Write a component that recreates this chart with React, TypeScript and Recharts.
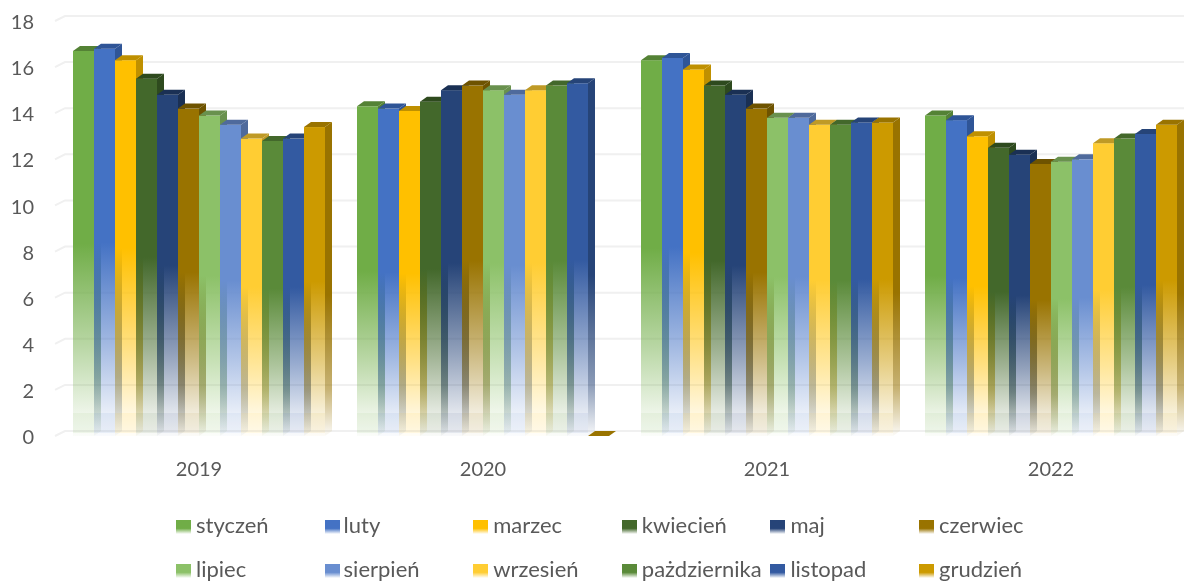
import { Bar, BarChart, CartesianGrid, Legend, XAxis, YAxis } from 'recharts';

const years = ['2019', '2020', '2021', '2022'];
const months = ['styczeń', 'luty', 'marzec', 'kwiecień', 'maj', 'czerwiec', 'lipiec', 'sierpień', 'wrzesień', 'pażdziernika', 'listopad', 'grudzień'];
const frontColors = ['#70AD47', '#4472C4', '#FFC000', '#43682B', '#264478', '#997300', '#8CC168', '#698ED0', '#FFCD33', '#5A8A39', '#335AA1', '#CC9A00'];
const sideColors = ['#548235', '#2F5597', '#BF9000', '#2E4A1E', '#1A3054', '#6E5300', '#69914E', '#4F6A9C', '#BF9A26', '#43682B', '#264478', '#997300'];

const values2019 = [16.7, 16.8, 16.3, 15.5, 14.8, 14.2, 13.9, 13.5, 12.9, 12.8, 12.9, 13.4];
const values2020 = [14.3, 14.2, 14.1, 14.5, 15.0, 15.2, 15.0, 14.8, 15.0, 15.2, 15.3, 0];
const values2021 = [16.3, 16.4, 15.9, 15.2, 14.8, 14.2, 13.8, 13.8, 13.5, 13.5, 13.6, 13.6];
const values2022 = [13.9, 13.7, 13.0, 12.5, 12.2, 11.8, 11.9, 12.0, 12.7, 12.9, 13.1, 13.5];
const yearValues = [values2019, values2020, values2021, values2022];

const yTicks = [0, 2, 4, 6, 8, 10, 12, 14, 16, 18];

const data = years.map((year, y) => {
  const row: Record<string, string | number> = { year };
  months.forEach((m, i) => {
    row[m] = yearValues[y][i];
  });
  return row;
});

const DEPTH_X = 7;
const DEPTH_Y = 5;
const FONT = 'Lato, "Open Sans", sans-serif';
const TEXT = '#595959';

function Box3D({ x, y, width, height, idx }: any) {
  const r = x + width;
  const b = y + height;
  const dx = DEPTH_X;
  const dy = DEPTH_Y;
  return (
    <g>
      {height > 0 && <rect x={x} y={y} width={width} height={height} fill={`url(#front${idx})`} />}
      {height > 0 && <rect x={x} y={b - 23} width={width} height={20} fill={frontColors[idx]} fillOpacity={0.08} />}
      {height > 0 && (
        <polygon
          points={`${r},${y} ${r + dx},${y - dy} ${r + dx},${b - dy} ${r},${b}`}
          fill={`url(#side${idx})`}
        />
      )}
      <polygon points={`${x},${y} ${x + dx},${y - dy} ${r + dx},${y - dy} ${r},${y}`} fill={sideColors[idx]} />
    </g>
  );
}

function GridLine(props: any) {
  const { x1, x2, y1 } = props;
  return (
    <path
      key={props.key}
      d={`M${x1 - 2},${y1} L${x1 + 8},${y1 - DEPTH_Y} L${x2},${y1 - DEPTH_Y}`}
      fill="none"
      stroke="#F0F0F0"
      strokeWidth={2}
    />
  );
}

function MonthLegend() {
  return (
    <div style={{ position: 'relative', height: 0, fontFamily: FONT, fontSize: 22, color: TEXT }}>
      {months.map((m, i) => {
        const left = 176 + (i % 6) * 148.6;
        const top = i < 6 ? 0 : 44;
        return (
          <div key={m} style={{ position: 'absolute', left, top, whiteSpace: 'nowrap', height: 26, lineHeight: '26px' }}>
            <span
              style={{
                position: 'absolute',
                left: 0,
                top: 7,
                width: 15,
                height: 14,
                background: `linear-gradient(${frontColors[i]} 0%, ${frontColors[i]} 60%, #ffffff 100%)`,
              }}
            />
            <span style={{ position: 'absolute', left: i === 1 || i === 7 ? 19 : 20, top: -1 }}>{m}</span>
          </div>
        );
      })}
    </div>
  );
}

export default function App() {
  return (
    <div style={{ position: 'absolute', left: 0, top: 0, width: 1184, height: 581, overflow: 'hidden', background: '#fff', filter: 'blur(0.4px)' }}>
      <BarChart
        width={1193}
        height={581}
        data={data}
        margin={{ top: 21, right: 0, bottom: 95, left: 0 }}
        barCategoryGap={16}
        barGap={0}
      >
        <defs>
          {months.map((m, i) => (
            <linearGradient key={m} id={`front${i}`} x1="0" y1="0" x2="0" y2="1">
              <stop offset="0" stopColor={frontColors[i]} stopOpacity={1} />
              <stop offset="0.5" stopColor={frontColors[i]} stopOpacity={1} />
              <stop offset="0.76" stopColor={frontColors[i]} stopOpacity={0.5} />
              <stop offset="0.94" stopColor={frontColors[i]} stopOpacity={0.12} />
              <stop offset="1" stopColor={frontColors[i]} stopOpacity={0.03} />
            </linearGradient>
          ))}
          {months.map((m, i) => (
            <linearGradient key={m} id={`side${i}`} x1="0" y1="0" x2="0" y2="1">
              <stop offset="0" stopColor={sideColors[i]} stopOpacity={1} />
              <stop offset="0.55" stopColor={sideColors[i]} stopOpacity={1} />
              <stop offset="0.85" stopColor={sideColors[i]} stopOpacity={0.55} />
              <stop offset="1" stopColor={sideColors[i]} stopOpacity={0.03} />
            </linearGradient>
          ))}
        </defs>
        <CartesianGrid vertical={false} horizontal={GridLine} />
        <XAxis
          dataKey="year"
          height={50}
          axisLine={false}
          tickLine={false}
          tickMargin={20}
          tick={{ fill: TEXT, fontSize: 20, fontFamily: FONT }}
        />
        <YAxis
          width={57}
          domain={[0, 18]}
          ticks={yTicks}
          interval={0}
          axisLine={false}
          tickLine={false}
          tickMargin={23}
          tickSize={0}
          tick={{ fill: TEXT, fontSize: 20, fontFamily: FONT, dy: 1 }}
        />
        {months.map((m, i) => (
          <Bar
            key={m}
            dataKey={m}
            isAnimationActive={false}
            fill={frontColors[i]}
            shape={(p: any) => <Box3D {...p} idx={i} />}
          />
        ))}
        <Legend content={<MonthLegend />} wrapperStyle={{ left: 0, top: 513, width: 1184, height: 0 }} />
      </BarChart>
    </div>
  );
}
